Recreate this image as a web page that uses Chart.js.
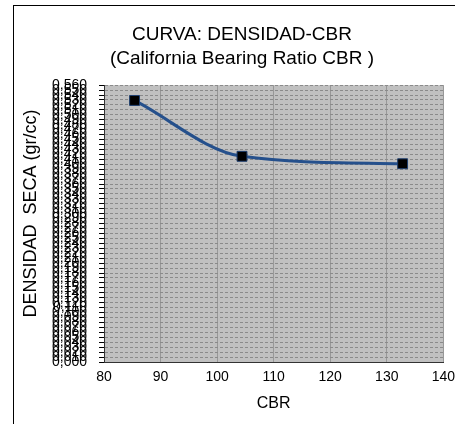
<!DOCTYPE html>
<html lang="es">

<head>
    <meta charset="utf-8" />
    <title>Curva Densidad-CBR</title>
    <script src="https://cdn.jsdelivr.net/npm/chart.js"></script>
    <style>
        html, body { margin: 0; padding: 0; background: #fff; overflow: hidden; }
        #frame {
            position: absolute; left: 13px; top: 5px;
            width: 442px; height: 419px;
            border-left: 1px solid #000; border-top: 1px solid #000;
            background: #fff;
            overflow: hidden;
        }
        #chartCanvas { display: block; }
    </style>
</head>

<body>
    <div id="frame">
        <canvas id="chartCanvas" width="448" height="418"></canvas>
    </div>

    <script>
        // values
        const cbrValues = [85.4, 104.4, 132.8];          // x: CBR
        const densityValues = [0.529, 0.416, 0.401];      // y: densidad seca (gr/cc)
        const xTicks = [80, 90, 100, 110, 120, 130, 140];

        // grey plot area like the Excel original
        const plotBackground = {
            id: 'plotBackground',
            beforeDraw(chart) {
                const { ctx, chartArea } = chart;
                ctx.save();
                ctx.fillStyle = '#c0c0c0';
                ctx.fillRect(chartArea.left, chartArea.top, chartArea.right - chartArea.left, chartArea.bottom - chartArea.top);
                ctx.restore();
            }
        };

        const ctx = document.getElementById('chartCanvas').getContext('2d');

        new Chart(ctx, {
            type: 'scatter',
            data: {
                datasets: [{
                    label: 'Densidad-CBR',
                    data: cbrValues.map((x, i) => ({ x: x, y: densityValues[i] })),
                    showLine: true,
                    borderColor: '#25508c',
                    borderWidth: 3,
                    cubicInterpolationMode: 'monotone',
                    pointStyle: 'rect',
                    pointRadius: 7,
                    pointHoverRadius: 7,
                    pointBackgroundColor: '#000000',
                    pointBorderColor: '#1f3f6f',
                    pointBorderWidth: 1,
                }]
            },
            options: {
                responsive: false,
                animation: false,
                layout: { padding: { left: 8, right: 0, top: 0, bottom: 11 } },
                plugins: {
                    legend: { display: false },
                    tooltip: { enabled: false },
                    title: {
                        display: true,
                        text: ['CURVA: DENSIDAD-CBR', '(California Bearing Ratio CBR )'],
                        color: '#000',
                        font: { family: 'Liberation Sans, Arial, sans-serif', size: 19, weight: 'normal', lineHeight: 1.24 },
                        padding: { top: 17, bottom: 15 }
                    }
                },
                scales: {
                    x: {
                        type: 'linear',
                        min: 80,
                        max: 140,
                        afterBuildTicks: (scale) => { scale.ticks = xTicks.map(v => ({ value: v })); },
                        ticks: {
                            color: '#000',
                            font: { family: 'Liberation Sans, Arial, sans-serif', size: 14 },
                            padding: 7,
                            maxRotation: 0,
                        },
                        grid: { color: '#989898', lineWidth: 1, drawTicks: false },
                        border: { color: '#333', width: 1 },
                        title: {
                            display: true,
                            text: 'CBR',
                            color: '#000',
                            font: { family: 'Liberation Sans, Arial, sans-serif', size: 16 },
                            padding: { top: 1, bottom: 0 }
                        }
                    },
                    y: {
                        min: 0,
                        max: 0.56,
                        ticks: {
                            stepSize: 0.01,
                            autoSkip: false,
                            color: '#000',
                            font: { family: 'Liberation Sans, Arial, sans-serif', size: 14 },
                            padding: 12,
                            callback: (v) => v.toFixed(3).replace('.', ',')
                        },
                        grid: { color: '#8a8a8a', lineWidth: 1, tickColor: '#000', tickLength: 5 },
                        border: { color: '#333', width: 1, dash: [3, 2] },
                        title: {
                            display: true,
                            // leading spaces nudge the centred title up a little, as in the original
                            text: '    DENSIDAD  SECA (gr/cc)',
                            color: '#000',
                            font: { family: 'Liberation Sans, Arial, sans-serif', size: 18, lineHeight: 1 },
                            padding: { top: 0, bottom: 0 }
                        }
                    }
                }
            },
            plugins: [plotBackground]
        });
    </script>
</body>

</html>
